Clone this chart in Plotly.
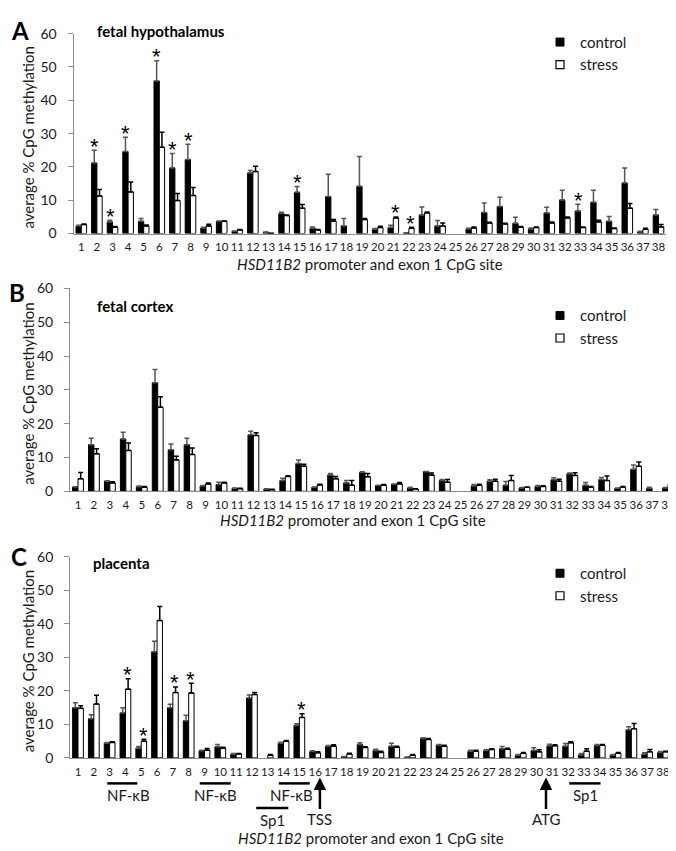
import plotly.graph_objects as go

sites = list(range(1, 39))
tick_labels = [str(s) for s in sites]

# ---- Panel A: fetal hypothalamus ----
a_control = [2.3, 21.2, 3.5, 24.6, 3.7, 45.8, 19.7, 22.2, 1.7, 3.7, 0.7, 18.2, 0.4, 6.0, 12.4, 1.6, 11.1, 2.3, 14.2,
             1.3, 1.8, 0.2, 5.6, 2.3, None, 1.4, 6.3, 8.1, 3.1, 1.4, 6.2, 10.1, 6.8, 9.4, 3.7, 15.2, 0.5, 5.6]
a_control_err = [0.2, 3.8, 0.5, 4.3, 0.8, 6.1, 4.3, 4.6, 0.2, 0.1, 0.1, 0.7, 0.1, 0.4, 1.7, 0.4, 6.7, 2.2, 8.9,
                 0.2, 0.7, 0.0, 2.4, 1.6, 0, 0.2, 2.9, 2.8, 1.8, 0.3, 1.7, 2.9, 2.0, 3.6, 1.4, 4.5, 0.2, 1.6]
a_stress = [2.7, 11.3, 1.9, 12.5, 2.3, 25.9, 9.9, 11.4, 2.3, 3.7, 1.1, 18.6, 0.1, 5.4, 7.6, 1.1, 3.7, None, 4.2,
            1.8, 4.7, 1.6, 6.2, 2.3, None, 1.7, 3.2, 2.9, 1.9, 1.8, 3.2, 4.7, 1.8, 3.5, 1.5, 7.6, 1.3, 2.0]
a_stress_err = [0.2, 1.9, 0.2, 3.0, 0.3, 4.5, 2.1, 2.4, 0.5, 0.1, 0.1, 1.6, 0.0, 0.2, 1.1, 0.1, 0.5, 0, 0.3,
                0.4, 0.3, 0.3, 0.3, 0.9, 0, 0.3, 0.2, 0.2, 0.2, 0.2, 0.3, 0.3, 0.2, 0.5, 0.2, 1.4, 0.3, 0.7]
a_signif = [2, 3, 4, 6, 7, 8, 15, 21, 22, 33]

# ---- Panel B: fetal cortex ----
b_control = [1.25, 13.8, 3.0, 15.5, 1.35, 32.1, 12.3, 13.8, 1.6, 2.0, 0.9, 16.7, 0.7, 3.2, 8.2, 1.2, 4.8, 2.5, 5.6,
             1.7, 2.1, 1.0, 5.8, 3.2, None, 1.6, 3.0, 1.8, 1.0, 1.45, 3.4, 5.2, 1.8, 3.5, 0.9, 6.5, 0.9, 1.0]
b_control_err = [0.1, 1.9, 0.1, 2.0, 0.2, 3.9, 1.7, 1.9, 0.1, 0.7, 0.1, 1.1, 0.1, 0.7, 1.1, 0.1, 0.5, 0.7, 0.2,
                 0.1, 0.1, 0.2, 0.1, 0.3, 0, 0.4, 0.4, 1.1, 0.1, 0.3, 0.6, 0.2, 0.8, 0.6, 0.1, 1.3, 0.3, 0.1]
b_stress = [3.7, 11.1, 2.5, 12.1, 1.2, 24.9, 9.3, 10.9, 2.2, 2.5, 0.8, 16.5, 0.5, 4.4, 7.4, 1.9, 3.7, 1.8, 4.3,
            1.8, 2.2, 0.7, 4.8, 2.7, None, 1.8, 3.0, 3.2, 1.2, 1.45, 3.0, 4.7, 1.25, 3.2, 1.25, 7.4, None, 2.1]
b_stress_err = [1.9, 1.5, 0.3, 2.2, 0.2, 3.1, 1.1, 1.9, 0.3, 0.2, 0.1, 0.8, 0.1, 0.2, 0.6, 0.2, 0.7, 1.4, 1.0,
                0.2, 0.4, 0.1, 0.6, 0.8, 0, 0.3, 0.6, 1.5, 0.1, 0.2, 0.6, 0.8, 0.2, 1.3, 0.2, 1.3, 0, 1.4]
b_signif = []

# ---- Panel C: placenta ----
c_control = [15.0, 11.7, 4.4, 13.4, 2.9, 31.7, 15.0, 11.1, 2.1, 3.3, 1.1, 17.9, None, 4.4, 9.7, 1.9, 3.5, 0.3, 4.0,
             2.2, 3.5, 0.2, 5.8, 3.8, None, 2.0, 2.2, 2.7, 0.8, 2.2, 3.6, 3.5, 0.9, 3.7, 0.8, 8.4, 1.1, 1.6]
c_control_err = [1.5, 1.2, 0.2, 1.6, 0.5, 3.1, 1.0, 1.6, 0.2, 0.7, 0.2, 0.9, 0, 0.3, 0.5, 0.2, 0.2, 0.1, 0.5,
                 0.4, 0.9, 0.1, 0.2, 0.2, 0, 0.3, 0.2, 0.7, 0.2, 0.8, 0.5, 0.8, 0.4, 0.3, 0.2, 0.9, 0.4, 0.3]
c_stress = [14.8, 16.1, 4.6, 20.5, 5.0, 41.0, 19.5, 19.4, 2.3, 2.9, 1.2, 18.9, 0.8, 5.0, 12.1, 1.5, 3.5, 1.2, 3.1,
            1.6, 3.2, 0.8, 5.5, 3.5, None, 2.0, 2.5, 2.6, 1.4, 1.8, 3.6, 4.5, 2.0, 3.8, 1.4, 8.7, 1.8, 1.8]
c_stress_err = [0.8, 2.6, 0.2, 3.1, 0.6, 4.2, 1.7, 2.9, 0.5, 0.3, 0.1, 0.6, 0.2, 0.2, 1.1, 0.3, 0.4, 0.2, 0.2,
                0.4, 0.3, 0.2, 0.3, 0.3, 0, 0.3, 0.2, 0.3, 0.2, 0.6, 0.3, 0.3, 0.7, 0.2, 0.2, 1.6, 0.7, 0.2]
c_signif = [4, 5, 7, 8, 15]

# promoter features under panel C: (label, start site, end site, label site)
nfkb_sites = [("NF-κB", 2.85, 4.75, 4.2), ("NF-κB", 8.7, 10.66, 9.7), ("NF-κB", 13.7, 15.66, 14.5)]
sp1_low = [("Sp1", 12.27, 14.3, 13.3)]
sp1_high = [("Sp1", 32.07, 34.05, 33.07)]
arrows = [("TSS", 16.3), ("ATG", 30.6)]

panel_names = ["fetal hypothalamus", "fetal cortex", "placenta"]
panel_letters = ["A", "B", "C"]
series_names = ["control", "stress"]
y_title = "average % CpG methylation"
x_title = "<i>HSD11B2</i> promoter and exon 1 CpG site"

W, H = 676, 851
FONT = "Lato"
TXT = "#1a1a1a"


def px(x):
    return x / W


def py(y):
    return 1 - y / H


# pixel layout of each panel: x-left, x-right, y-top(60), y-bottom(0)
panels = [
    dict(x0=65.5, x1=658.3, yt=17, yb=221),
    dict(x0=62, x1=668, yt=277, yb=484),
    dict(x0=62.1, x1=662.9, yt=551, yb=756),
]
data_sets = [
    (a_control, a_control_err, a_stress, a_stress_err, a_signif),
    (b_control, b_control_err, b_stress, b_stress_err, b_signif),
    (c_control, c_control_err, c_stress, c_stress_err, c_signif),
]

fig = go.Figure()
annotations = []
shapes = []
layout_axes = {}

for i, (pan, ds) in enumerate(zip(panels, data_sets)):
    k = "" if i == 0 else str(i + 1)
    xa, ya = "x" + k, "y" + k
    ctl, ctl_e, st, st_e, sig = ds
    zeros = [0] * len(sites)
    fig.add_trace(go.Bar(
        x=sites, y=ctl, name=series_names[0], xaxis=xa, yaxis=ya, showlegend=False,
        marker=dict(color="black", line=dict(color="black", width=1)),
        error_y=dict(type="data", symmetric=False, array=ctl_e, arrayminus=zeros,
                     color="#555555", thickness=1.5, width=2.5)))
    fig.add_trace(go.Bar(
        x=sites, y=st, name=series_names[1], xaxis=xa, yaxis=ya, showlegend=False,
        marker=dict(color="white", line=dict(color="black", width=1)),
        error_y=dict(type="data", symmetric=False, array=st_e, arrayminus=zeros,
                     color="black", thickness=1.5, width=2.5)))
    leg = "legend" if i == 0 else "legend" + str(i + 1)
    fig.add_trace(go.Scatter(x=[None], y=[None], mode="markers", name=series_names[0], xaxis=xa, yaxis=ya,
                             legend=leg, marker=dict(symbol="square", size=8, color="black",
                                                     line=dict(color="black", width=1))))
    fig.add_trace(go.Scatter(x=[None], y=[None], mode="markers", name=series_names[1], xaxis=xa, yaxis=ya,
                             legend=leg, marker=dict(symbol="square", size=8, color="white",
                                                     line=dict(color="black", width=1.2))))

    layout_axes["xaxis" + k] = dict(
        domain=[px(pan["x0"]), px(pan["x1"])], range=[0.5, 38.5], anchor=ya,
        tickmode="array", tickvals=sites, ticktext=tick_labels, ticks="", tickangle=0,
        tickfont=dict(family=FONT, size=11.5, color=TXT), ticklabelstandoff=3,
        showline=True, linecolor="#8c8c8c", linewidth=1, showgrid=False, zeroline=False, fixedrange=True)
    layout_axes["yaxis" + k] = dict(
        domain=[py(pan["yb"]), py(pan["yt"])], range=[0, 60], dtick=10, anchor=xa,
        ticks="outside", ticklen=5, tickcolor="#8c8c8c", tickwidth=1,
        tickfont=dict(family=FONT, size=14, color=TXT), ticklabelstandoff=8,
        showline=True, linecolor="#8c8c8c", linewidth=1, showgrid=False, zeroline=False, fixedrange=True)

    # significance asterisks
    for s in sig:
        j = s - 1
        ct = (ctl[j] or 0) + ctl_e[j]
        stt = (st[j] or 0) + st_e[j]
        top = max(ct, stt)
        off = -0.15 if ct >= stt else 0.12
        annotations.append(dict(x=s + off, y=top, xref=xa, yref=ya, text="*", showarrow=False,
                                yanchor="middle", yshift=4,
                                font=dict(family="Liberation Sans", size=22, color="black")))

    # panel letter, title, axis titles
    annotations.append(dict(x=px([12, 9, 11][i]), y=py([14, 281, 550][i]), xref="paper", yref="paper",
                            text="<b>%s</b>" % panel_letters[i], showarrow=False, xanchor="center",
                            yanchor="middle", font=dict(family=FONT, size=24, color="black")))
    annotations.append(dict(x=px([87, 87, 83][i]), y=py([14, 295, 557][i]), xref="paper", yref="paper",
                            text="<b>%s</b>" % panel_names[i], showarrow=False, xanchor="left",
                            yanchor="middle", font=dict(family=FONT, size=15, color="black")))
    annotations.append(dict(x=px(20), y=py((pan["yt"] + pan["yb"]) / 2 + 4), xref="paper", yref="paper",
                            text=y_title, textangle=-90, showarrow=False, xanchor="center", yanchor="middle",
                            font=dict(family=FONT, size=15, color=TXT)))
    annotations.append(dict(x=px([362, 345, 363][i]), y=py([252, 513, 838][i]), xref="paper", yref="paper",
                            text=x_title, showarrow=False, xanchor="center", yanchor="middle",
                            font=dict(family=FONT, size=15, color=TXT)))

# features under panel C
for (lab, s0, s1, sl) in nfkb_sites + sp1_high:
    shapes.append(dict(type="line", xref="x3", yref="paper", x0=s0, x1=s1, y0=py(782), y1=py(782),
                       line=dict(color="black", width=2.5)))
    annotations.append(dict(x=sl, y=py(794), xref="x3", yref="paper", text=lab, showarrow=False,
                            xanchor="center", yanchor="middle", font=dict(family=FONT, size=15, color=TXT)))
for (lab, s0, s1, sl) in sp1_low:
    shapes.append(dict(type="line", xref="x3", yref="paper", x0=s0, x1=s1, y0=py(807), y1=py(807),
                       line=dict(color="black", width=2.5)))
    annotations.append(dict(x=sl, y=py(819), xref="x3", yref="paper", text=lab, showarrow=False,
                            xanchor="center", yanchor="middle", font=dict(family=FONT, size=15, color=TXT)))
for (lab, s) in arrows:
    annotations.append(dict(x=s, y=py(776), xref="x3", yref="paper", text=lab, showarrow=True,
                            ax=0, ay=42, arrowhead=2, arrowsize=1, arrowwidth=2.5, arrowcolor="black",
                            font=dict(family=FONT, size=15, color=TXT)))

legend_common = dict(xanchor="left", yanchor="top", bgcolor="rgba(0,0,0,0)", borderwidth=0,
                     font=dict(family=FONT, size=15, color=TXT), itemsizing="trace", tracegroupgap=0)
fig.update_layout(
    width=W, height=H, margin=dict(l=0, r=0, t=0, b=0),
    paper_bgcolor="white", plot_bgcolor="white",
    barmode="group", bargap=0.32, bargroupgap=0,
    showlegend=True,
    legend=dict(x=px(532), y=py(9), **legend_common),
    legend2=dict(x=px(532), y=py(288), **legend_common),
    legend3=dict(x=px(532), y=py(551), **legend_common),
    annotations=annotations, shapes=shapes,
    font=dict(family=FONT, color=TXT),
    **layout_axes,
)

fig.write_html("out.html")
